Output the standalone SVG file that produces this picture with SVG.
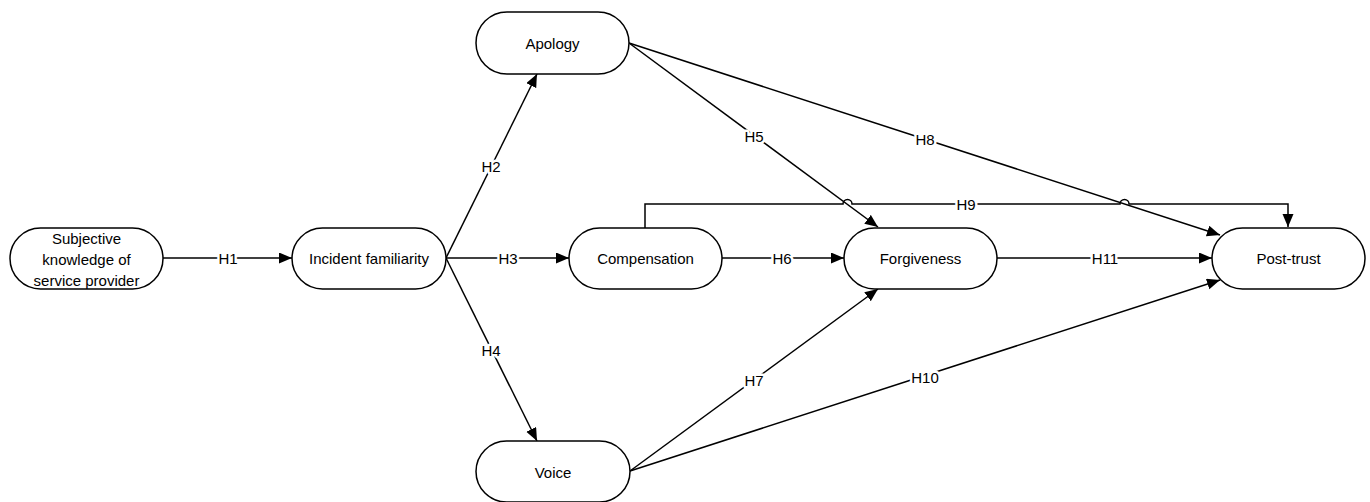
<svg xmlns="http://www.w3.org/2000/svg" width="1370" height="502" viewBox="0 0 1370 502">
<style>
.node{fill:#fff;stroke:#000;stroke-width:1.5}
.t{font-family:"Liberation Sans",Arial,sans-serif;font-size:15px;fill:#000;text-anchor:middle;dominant-baseline:central}
.c{fill:none;stroke:#000;stroke-width:1.5}
.lbl{font-family:"Liberation Sans",Arial,sans-serif;font-size:15px;fill:#000;text-anchor:middle;dominant-baseline:central;stroke:#fff;stroke-width:5;paint-order:stroke;stroke-linejoin:round}
</style>
<defs>
<marker id="ah" markerUnits="userSpaceOnUse" markerWidth="14" markerHeight="12" refX="13" refY="5.5" orient="auto">
<path d="M0,0 L13,5.5 L0,11 z" fill="#000"/>
</marker>
</defs>
<rect width="1370" height="502" fill="#fff"/>
<g id="connectors">
<line class="c" x1="163" y1="258" x2="292" y2="258" marker-end="url(#ah)"/>
<line class="c" x1="446" y1="258" x2="537" y2="74" marker-end="url(#ah)"/>
<line class="c" x1="446" y1="258" x2="569" y2="258" marker-end="url(#ah)"/>
<line class="c" x1="446" y1="258" x2="537" y2="441" marker-end="url(#ah)"/>
<line class="c" x1="629" y1="43" x2="878" y2="227" marker-end="url(#ah)"/>
<line class="c" x1="629" y1="43" x2="1220" y2="235" marker-end="url(#ah)"/>
<path class="c" d="M645,228 L645,204 L843,204 A4.5,4.5 0 0 1 852,204 L1120,204 A4.5,4.5 0 0 1 1129,204 L1288,204 L1288,227" marker-end="url(#ah)"/>
<line class="c" x1="722" y1="258" x2="844" y2="258" marker-end="url(#ah)"/>
<line class="c" x1="997" y1="258" x2="1212" y2="258" marker-end="url(#ah)"/>
<line class="c" x1="630" y1="471" x2="878" y2="289" marker-end="url(#ah)"/>
<line class="c" x1="630" y1="471" x2="1220" y2="280" marker-end="url(#ah)"/>
<text class="lbl" x="228" y="258">H1</text>
<text class="lbl" x="491" y="166">H2</text>
<text class="lbl" x="508" y="258">H3</text>
<text class="lbl" x="491" y="350">H4</text>
<text class="lbl" x="754" y="136">H5</text>
<text class="lbl" x="925" y="139">H8</text>
<text class="lbl" x="966" y="204">H9</text>
<text class="lbl" x="782" y="258">H6</text>
<text class="lbl" x="1105" y="258">H11</text>
<text class="lbl" x="754" y="380">H7</text>
<text class="lbl" x="925" y="377">H10</text>
</g>
<g id="subjective">
<rect class="node" x="10" y="228" width="153" height="61" rx="30.5"/>
<text class="t" x="86.5" y="238">Subjective</text>
<text class="t" x="86.5" y="259">knowledge of</text>
<text class="t" x="86.5" y="280">service provider</text>
</g>
<g id="incident">
<rect class="node" x="292" y="228" width="154" height="61" rx="30.5"/>
<text class="t" x="369" y="258.5">Incident familiarity</text>
</g>
<g id="apology">
<rect class="node" x="476" y="12" width="153" height="62" rx="31"/>
<text class="t" x="552.5" y="43">Apology</text>
</g>
<g id="compensation">
<rect class="node" x="569" y="228" width="153" height="61" rx="30.5"/>
<text class="t" x="645.5" y="258.5">Compensation</text>
</g>
<g id="voice">
<rect class="node" x="476" y="441" width="154" height="61" rx="30.5"/>
<text class="t" x="553" y="472">Voice</text>
</g>
<g id="forgiveness">
<rect class="node" x="844" y="228" width="153" height="61" rx="30.5"/>
<text class="t" x="920.5" y="258.5">Forgiveness</text>
</g>
<g id="posttrust">
<rect class="node" x="1212" y="228" width="153" height="61" rx="30.5"/>
<text class="t" x="1288.5" y="258.5">Post-trust</text>
</g>
</svg>
